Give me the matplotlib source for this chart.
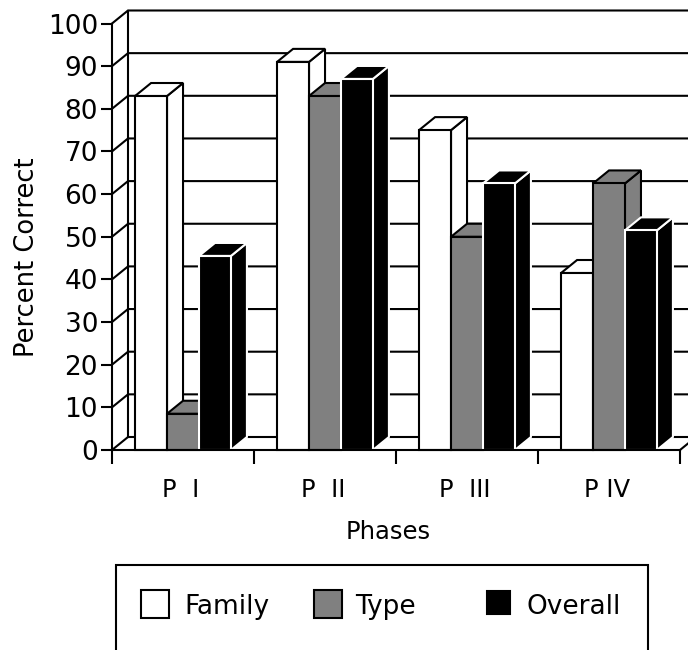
import matplotlib
matplotlib.use("Agg")
import matplotlib.pyplot as plt
from matplotlib.patches import Polygon, Rectangle

phases = ["P  I", "P  II", "P  III", "P IV"]
family = [83, 91, 75, 41.5]
type_ = [8.5, 83, 50, 62.5]
overall = [45.5, 87, 62.5, 51.5]
labels = ["Family", "Type", "Overall"]
yticks = [0, 10, 20, 30, 40, 50, 60, 70, 80, 90, 100]

W, H = 688, 650
fig = plt.figure(figsize=(W / 100, H / 100), dpi=100)
ax = fig.add_axes([112 / W, (H - 450) / H, 568 / W, 426.5 / H])
ax.set_xlim(0, 4)
ax.set_ylim(0, 100)

# depth of the fake 3d, in data units (16px across, 13px up)
dx = 16 / 142
dy = 13 / 4.265
lw = 1.5
bar_w = 0.225

# back wall, side wall, floor
for v in yticks:
    ax.plot([0, dx, 4 + dx], [v, v + dy, v + dy], color="black", lw=lw,
            clip_on=False, zorder=1, solid_joinstyle="miter")
ax.plot([dx, dx], [dy, 100 + dy], color="black", lw=lw, clip_on=False, zorder=1)
ax.plot([4, 4 + dx], [0, dy], color="black", lw=lw, clip_on=False, zorder=1)


def draw_bar(x, v, face, edge, z):
    left = x - bar_w / 2
    right = x + bar_w / 2
    side = [(right, 0), (right + dx, dy), (right + dx, v + dy), (right, v)]
    top = [(left, v), (left + dx, v + dy), (right + dx, v + dy), (right, v)]
    ax.add_patch(Polygon(side, facecolor=face, edgecolor=edge, lw=lw, clip_on=False, zorder=z))
    ax.add_patch(Polygon(top, facecolor=face, edgecolor=edge, lw=lw, clip_on=False, zorder=z))
    ax.bar(x, v, bar_w, color=face, edgecolor=edge, lw=lw, clip_on=False, zorder=z)


series = [(family, "white", "black"), (type_, "#808080", "black"), (overall, "black", "white")]
for i in range(len(phases)):
    for j, (vals, face, edge) in enumerate(series):
        draw_bar(i + 0.5 + (j - 1) * bar_w, vals[i], face, edge, 3 + i + j * 0.1)

ax.spines["top"].set_visible(False)
ax.spines["right"].set_visible(False)
for s in ["left", "bottom"]:
    ax.spines[s].set_linewidth(lw)
    ax.spines[s].set_zorder(10)

ax.set_yticks(yticks)
ax.set_xticks(range(5))
ax.set_xticklabels([])
ax.set_xticks([i + 0.485 for i in range(4)], minor=True)
ax.set_xticklabels(phases, minor=True, fontsize=17.5)
ax.tick_params(axis="x", which="minor", length=0, pad=20)
ax.tick_params(axis="x", which="major", length=10, width=lw)
ax.tick_params(axis="y", length=8, width=lw, labelsize=19, pad=2)
ax.set_xlabel("Phases", fontsize=17.5, va="center")
ax.xaxis.set_label_coords(0.486, -0.192)
ax.set_ylabel("Percent Correct", fontsize=18.5, va="center")
ax.yaxis.set_label_coords(-0.15, 0.4525)

# legend box runs off the bottom of the picture
fig.add_artist(Rectangle((116 / W, -0.05), 532 / W, (H - 565) / H + 0.05,
                         transform=fig.transFigure, facecolor="white",
                         edgecolor="black", lw=1.5))
swatches = [(141, 590, 28, 28, "white", "black"),
            (314, 590, 28, 28, "#808080", "black"),
            (487, 591, 23, 23, "black", "black")]
text_x = [184, 355, 527]
for (x, y, w, h, face, edge), tx, name in zip(swatches, text_x, labels):
    fig.add_artist(Rectangle((x / W, (H - y - h) / H), w / W, h / H,
                             transform=fig.transFigure, facecolor=face,
                             edgecolor=edge, lw=1.5))
    fig.text(tx / W, (H - 607) / H, name, fontsize=19, va="center", ha="left")

fig.savefig("out.png", dpi=100)
plt.close(fig)
